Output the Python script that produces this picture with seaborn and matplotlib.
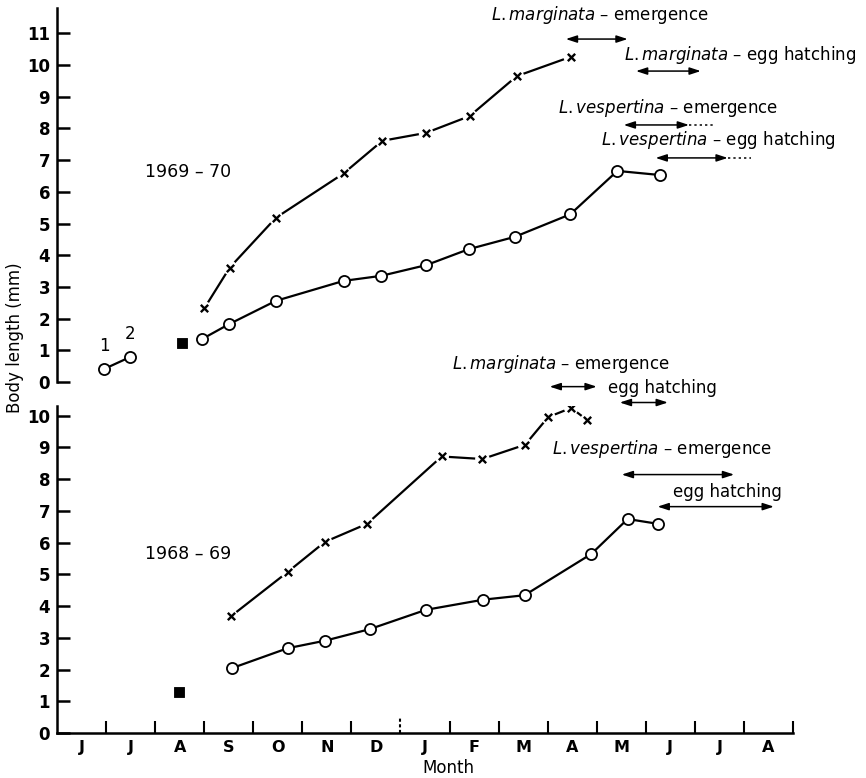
import matplotlib
matplotlib.use('Agg')
import matplotlib.pyplot as plt
import seaborn as sns
import pandas as pd

# ---------------- data (x = months counted from 1 June) ----------------
months = ['J', 'J', 'A', 'S', 'O', 'N', 'D', 'J', 'F', 'M', 'A', 'M', 'J', 'J', 'A']

# 1969-70 (upper panel)
top_circle_x = [2.95, 3.50, 4.46, 5.84, 6.61, 7.53, 8.39, 9.33, 10.46, 11.42, 12.29]
top_circle_y = [1.35, 1.82, 2.56, 3.19, 3.35, 3.69, 4.19, 4.58, 5.29, 6.66, 6.53]
top_cross_x = [3.00, 3.52, 4.46, 5.84, 6.63, 7.52, 8.41, 9.37, 10.47]
top_cross_y = [2.32, 3.61, 5.18, 6.58, 7.61, 7.86, 8.39, 9.65, 10.26]
top_early_x = [0.96, 1.48]
top_early_y = [0.41, 0.78]
top_early_labels = ['1', '2']
top_square_x = [2.55]
top_square_y = [1.23]

# 1968-69 (lower panel)
bot_circle_x = [3.56, 4.70, 5.47, 6.37, 7.52, 8.69, 9.53, 10.89, 11.63, 12.24]
bot_circle_y = [2.04, 2.67, 2.91, 3.27, 3.88, 4.20, 4.34, 5.64, 6.74, 6.59]
bot_cross_x = [3.54, 4.70, 5.46, 6.32, 7.84, 8.67, 9.54, 10.01, 10.48, 10.81]
bot_cross_y = [3.67, 5.07, 6.02, 6.59, 8.71, 8.63, 9.08, 9.95, 10.24, 9.85]
bot_square_x = [2.49]
bot_square_y = [1.30]

# periods (start, end, dotted continuation end or None, level)
top_periods = [(10.37, 11.63, None, 10.82),
               (11.80, 13.12, None, 9.81),
               (11.55, 12.88, 13.39, 8.11),
               (12.20, 13.67, 14.14, 7.07)]
top_period_text = [('L.marginata', ' – emergence', 8.84, 11.58),
                   ('L.marginata', ' – egg hatching', 11.55, 10.32),
                   ('L.vespertina', ' – emergence', 10.22, 8.64),
                   ('L.vespertina', ' – egg hatching', 11.08, 7.63)]
bot_periods = [(10.04, 11.00, None, 10.91),
               (11.47, 12.45, None, 10.41),
               (11.51, 13.80, None, 8.14),
               (12.24, 14.61, None, 7.13)]
bot_period_text = [('L.marginata', ' – emergence', 8.06, 11.61),
                   (None, 'egg hatching', 11.22, 10.88),
                   ('L.vespertina', ' – emergence', 10.08, 8.93),
                   (None, 'egg hatching', 12.55, 7.60)]

# ---------------- figure ----------------
sns.set_theme(style='white')
plt.rcParams['font.family'] = ['DejaVu Sans']
plt.rcParams['mathtext.fontset'] = 'dejavusans'
for k in ['text.color', 'axes.labelcolor', 'xtick.color', 'ytick.color',
          'axes.edgecolor']:
    plt.rcParams[k] = 'black'

W, H = 866, 778
fig = plt.figure(figsize=(W / 100, H / 100), dpi=100)
left = 57 / W
width = (793 - 57) / W
ax_top = fig.add_axes([left, 1 - 382 / H, width, 374 / H])
ax_bot = fig.add_axes([left, 1 - 733 / H, width, 327 / H])

LW = 1.6
FS_TXT = 12


def draw_series(ax, xs, ys, kind):
    df = pd.DataFrame({'x': xs, 'y': ys})
    if kind == 'circle':
        sns.lineplot(data=df, x='x', y='y', ax=ax, color='black', lw=LW,
                     estimator=None, sort=False, marker='o', markersize=8,
                     markerfacecolor='white', markeredgecolor='black',
                     markeredgewidth=1.3, zorder=3)
    else:
        sns.lineplot(data=df, x='x', y='y', ax=ax, color='black', lw=LW,
                     estimator=None, sort=False, zorder=2)
        sns.scatterplot(data=df, x='x', y='y', ax=ax, marker='o', s=110,
                        color='white', edgecolor='none', zorder=3)
        sns.scatterplot(data=df, x='x', y='y', ax=ax, marker='x', s=28,
                        color='black', linewidth=1.7, zorder=4)


def draw_periods(ax, periods, texts):
    for (a, b, c, yv) in periods:
        ax.annotate('', xy=(b, yv), xytext=(a, yv), annotation_clip=False,
                    arrowprops=dict(arrowstyle='<|-|>,head_length=0.55,head_width=0.18',
                                    lw=1.1, color='black', shrinkA=0, shrinkB=0))
        if c is not None:
            ax.plot([b, c], [yv, yv], color='black', lw=1.1, ls=(0, (1.5, 2.0)),
                    clip_on=False)
    for (sp, rest, xv, yv) in texts:
        s = (r'$\mathit{' + sp + '}$' + rest) if sp else rest
        ax.text(xv, yv, s, fontsize=FS_TXT, ha='left', va='center', clip_on=False,
                color='black')


# upper panel
draw_series(ax_top, top_circle_x, top_circle_y, 'circle')
draw_series(ax_top, top_cross_x, top_cross_y, 'cross')
draw_series(ax_top, top_early_x, top_early_y, 'circle')
sns.scatterplot(x=top_square_x, y=top_square_y, ax=ax_top, marker='s', s=60,
                color='black', edgecolor='black', zorder=4)
for xv, yv, lab in zip(top_early_x, top_early_y, top_early_labels):
    ax_top.annotate(lab, (xv, yv), xytext=(0, 10), textcoords='offset points',
                    ha='center', va='bottom', fontsize=FS_TXT, color='black')
ax_top.text(2.67, 6.62, '1969 – 70', fontsize=12.5, ha='center', va='center',
            color='black')
draw_periods(ax_top, top_periods, top_period_text)

# lower panel
draw_series(ax_bot, bot_circle_x, bot_circle_y, 'circle')
draw_series(ax_bot, bot_cross_x, bot_cross_y, 'cross')
sns.scatterplot(x=bot_square_x, y=bot_square_y, ax=ax_bot, marker='s', s=60,
                color='black', edgecolor='black', zorder=4)
ax_bot.text(2.67, 5.65, '1968 – 69', fontsize=12.5, ha='center', va='center',
            color='black')
draw_periods(ax_bot, bot_periods, bot_period_text)

# ---------------- axes styling ----------------
for ax, ytop, nt in [(ax_top, 11.8, 11), (ax_bot, 10.3, 10)]:
    ax.set_xlim(0, 15)
    ax.set_ylim(0, ytop)
    ax.set_yticks(range(0, nt + 1))
    ax.set_xlabel('')
    ax.set_ylabel('')
    ax.patch.set_alpha(0)
    for s in ['top', 'right']:
        ax.spines[s].set_visible(False)
    ax.spines['left'].set_linewidth(1.8)
    ax.spines['left'].set_color('black')
    ax.tick_params(axis='y', direction='in', length=9, width=1.8, color='black',
                   labelcolor='black', labelsize=12, pad=5, left=True)
    for t in ax.get_yticklabels():
        t.set_fontweight('bold')

ax_top.spines['bottom'].set_visible(False)
ax_top.set_xticks([])

ax_bot.spines['bottom'].set_linewidth(1.8)
ax_bot.spines['bottom'].set_color('black')
major = [k for k in range(1, 16) if k != 7]
ax_bot.set_xticks(major)
ax_bot.set_xticklabels([''] * len(major))
ax_bot.set_xticks([k + 0.5 for k in range(15)], minor=True)
ax_bot.set_xticklabels(months, minor=True)
ax_bot.tick_params(axis='x', which='major', direction='in', length=9, width=1.5,
                   color='black', bottom=True)
ax_bot.tick_params(axis='x', which='minor', length=0, labelsize=11.5, pad=5,
                   labelcolor='black', bottom=True)
for t in ax_bot.get_xticklabels(minor=True):
    t.set_fontweight('bold')
# broken tick at the year boundary (Dec / Jan)
ax_bot.axvline(7, ymin=0, ymax=0.045, color='black', lw=1.5, ls=(0, (1.5, 1.2)))

fig.text(448 / W, 1 - 768 / H, 'Month', ha='center', va='center', fontsize=12,
         color='black')
fig.text(15 / W, 1 - 338 / H, 'Body length (mm)', ha='center', va='center',
         rotation=90, fontsize=12, color='black')

fig.savefig('out.png', dpi=100)
